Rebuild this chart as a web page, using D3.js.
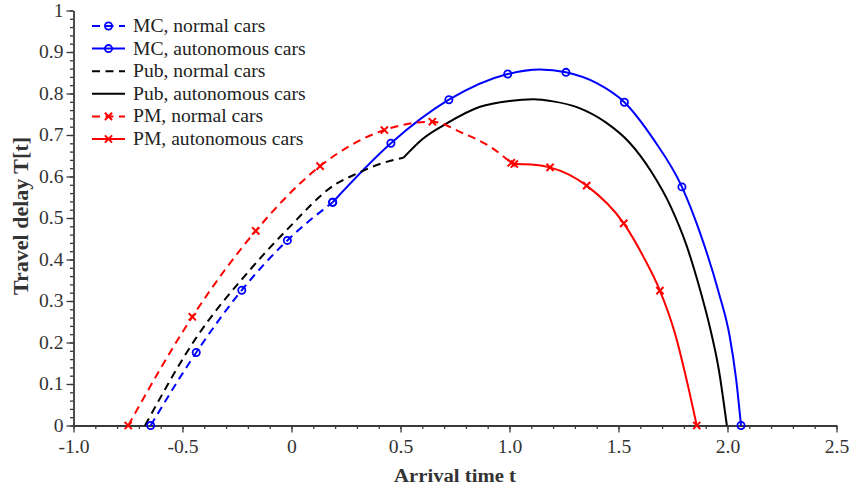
<!DOCTYPE html>
<html>
<head>
<meta charset="utf-8">
<script src="https://cdn.jsdelivr.net/npm/d3@7"></script>
<style>
  body { margin: 0; background: #fff; }
  text { font-family: "Liberation Serif", "Times New Roman", serif; }
  .sx { transform-box: fill-box; transform: scaleX(1.09); }
</style>
</head>
<body>
<svg id="chart"></svg>
<script>
// values: [arrival time t, travel delay T, marker?]
var mcNormal = [[-0.646, 0, 1], [-0.437, 0.176, 1], [-0.228, 0.326, 1], [-0.019, 0.446, 1], [0.189, 0.538, 1]];
var mcAuto = [[0.189, 0.538, 1], [0.456, 0.680, 1], [0.722, 0.785, 1], [0.992, 0.847, 1], [1.140, 0.858, 0],
  [1.259, 0.851, 1], [1.400, 0.825, 0], [1.527, 0.779, 1], [1.660, 0.690, 0], [1.791, 0.575, 1],
  [1.870, 0.470, 0], [1.960, 0.320, 0], [2.010, 0.215, 0], [2.040, 0.110, 0], [2.062, 0, 1]];
var pubNormal = [[-0.672, 0, 0], [-0.435, 0.213, 0], [-0.207, 0.365, 0], [-0.024, 0.470, 0], [0.204, 0.582, 0],
  [0.300, 0.607, 0], [0.410, 0.631, 0], [0.513, 0.645, 0]];
var pubAuto = [[0.513, 0.645, 0], [0.600, 0.690, 0], [0.712, 0.728, 0], [0.865, 0.768, 0], [1.000, 0.782, 0],
  [1.109, 0.786, 0], [1.200, 0.781, 0], [1.315, 0.766, 0], [1.440, 0.731, 0], [1.550, 0.682, 0],
  [1.650, 0.612, 0], [1.740, 0.527, 0], [1.810, 0.437, 0], [1.870, 0.335, 0], [1.920, 0.235, 0],
  [1.960, 0.135, 0], [1.997, 0, 0]];
var pmNormal = [[-0.749, 0, 1], [-0.455, 0.262, 1], [-0.164, 0.469, 1], [0.131, 0.625, 1], [0.426, 0.712, 1],
  [0.646, 0.732, 1], [0.788, 0.704, 0], [0.911, 0.672, 0], [1.008, 0.633, 1]];
var pmAuto = [[1.022, 0.630, 1], [1.100, 0.629, 0], [1.186, 0.622, 1], [1.354, 0.578, 1], [1.524, 0.487, 1],
  [1.614, 0.407, 0], [1.690, 0.325, 1], [1.759, 0.222, 0], [1.816, 0.102, 0], [1.859, 0, 1]];

var seriesNames = ["MC, normal cars", "MC, autonomous cars", "Pub, normal cars",
  "Pub, autonomous cars", "PM, normal cars", "PM, autonomous cars"];

var xTicks = [-1, -0.5, 0, 0.5, 1, 1.5, 2, 2.5];
var xTickLabels = ["-1.0", "-0.5", "0", "0.5", "1.0", "1.5", "2.0", "2.5"];
var yTicks = [0, 0.1, 0.2, 0.3, 0.4, 0.5, 0.6, 0.7, 0.8, 0.9, 1];
var yTickLabels = ["0", "0.1", "0.2", "0.3", "0.4", "0.5", "0.6", "0.7", "0.8", "0.9", "1"];

var series = [
  { name: seriesNames[0], data: mcNormal, color: "#0000ff", dash: "8,5.5", mark: "o" },
  { name: seriesNames[1], data: mcAuto, color: "#0000ff", dash: null, mark: "o" },
  { name: seriesNames[2], data: pubNormal, color: "#000000", dash: "8,5.5", mark: null },
  { name: seriesNames[3], data: pubAuto, color: "#000000", dash: null, mark: null },
  { name: seriesNames[4], data: pmNormal, color: "#ff0000", dash: "8,5.5", mark: "x" },
  { name: seriesNames[5], data: pmAuto, color: "#ff0000", dash: null, mark: "x" }
];

var svgWidth = 851, svgHeight = 493;
var svg = d3.select("#chart").attr("width", svgWidth).attr("height", svgHeight);
svg.append("rect").attr("width", svgWidth).attr("height", svgHeight).attr("fill", "#fff");

var x = d3.scaleLinear().domain([-1, 2.5]).range([73.5, 836.5]);
var y = d3.scaleLinear().domain([0, 1]).range([425.5, 10.5]);

var axisColor = "#3a3a3a";

// minor ticks
svg.append("g").attr("transform", "translate(0," + y(0) + ")")
  .call(d3.axisBottom(x).tickValues(d3.range(-1, 2.5001, 0.1)).tickSize(3.5).tickFormat(""))
  .call(function(g) { g.select(".domain").remove(); });
svg.append("g").attr("transform", "translate(" + x(-1) + ",0)")
  .call(d3.axisLeft(y).tickValues(d3.range(0, 1.0001, 0.02)).tickSize(3.5).tickFormat(""))
  .call(function(g) { g.select(".domain").remove(); });

// major ticks
var gx = svg.append("g").attr("transform", "translate(0," + y(0) + ")")
  .call(d3.axisBottom(x).tickValues(xTicks).tickSize(7).tickSizeOuter(0).tickPadding(8)
    .tickFormat(function(d, i) { return xTickLabels[i]; }));
var gy = svg.append("g").attr("transform", "translate(" + x(-1) + ",0)")
  .call(d3.axisLeft(y).tickValues(yTicks).tickSize(7).tickSizeOuter(0).tickPadding(3)
    .tickFormat(function(d, i) { return yTickLabels[i]; }));

svg.selectAll(".tick line").attr("stroke", axisColor).attr("stroke-width", 1.3);
svg.selectAll(".domain").attr("stroke", axisColor).attr("stroke-width", 1.8);
gx.selectAll("text").attr("class", "sx").style("transform-origin", "center")
  .attr("font-size", 18).attr("fill", "#333");
gy.selectAll("text").attr("class", "sx").style("transform-origin", "right center")
  .attr("font-size", 18).attr("fill", "#333");

// axis titles
svg.append("text").attr("class", "sx").style("transform-origin", "center")
  .attr("x", 455).attr("y", 482).attr("text-anchor", "middle")
  .attr("font-size", 19).attr("font-weight", "bold").attr("fill", "#333")
  .text("Arrival time t");
svg.append("text").attr("transform", "translate(28,216) rotate(-90)")
  .attr("text-anchor", "middle").attr("font-size", 22).attr("font-weight", "bold").attr("fill", "#333")
  .text("Travel delay T[t]");

var line = d3.line().x(function(d) { return x(d[0]); }).y(function(d) { return y(d[1]); })
  .curve(d3.curveMonotoneX);

function drawMarker(g, type, cx, cy, color) {
  if (type === "o") {
    g.append("circle").attr("cx", cx).attr("cy", cy).attr("r", 3.6)
      .attr("fill", "none").attr("stroke", color).attr("stroke-width", 1.8);
  } else if (type === "x") {
    var s = 3.6;
    g.append("path").attr("d", "M" + (cx - s) + "," + (cy - s) + "L" + (cx + s) + "," + (cy + s) +
      "M" + (cx - s) + "," + (cy + s) + "L" + (cx + s) + "," + (cy - s))
      .attr("stroke", color).attr("stroke-width", 2).attr("fill", "none");
  }
}

var plot = svg.append("g");
series.forEach(function(s) {
  plot.append("path").datum(s.data).attr("fill", "none").attr("stroke", s.color)
    .attr("stroke-width", 2).attr("stroke-dasharray", s.dash).attr("d", line);
});
series.forEach(function(s) {
  if (!s.mark) return;
  s.data.filter(function(d) { return d[2]; }).forEach(function(d) {
    drawMarker(plot, s.mark, x(d[0]), y(d[1]), s.color);
  });
});

// legend
var legend = svg.append("g");
series.forEach(function(s, i) {
  var ly = 26 + i * 22.6;
  legend.append("line").attr("x1", 92).attr("x2", 125).attr("y1", ly).attr("y2", ly)
    .attr("stroke", s.color).attr("stroke-width", 2).attr("stroke-dasharray", s.dash);
  drawMarker(legend, s.mark, 108.5, ly, s.color);
  legend.append("text").attr("class", "sx").style("transform-origin", "left center")
    .attr("x", 133).attr("y", ly + 6).attr("font-size", 18).attr("fill", "#222").text(s.name);
});
</script>
</body>
</html>
